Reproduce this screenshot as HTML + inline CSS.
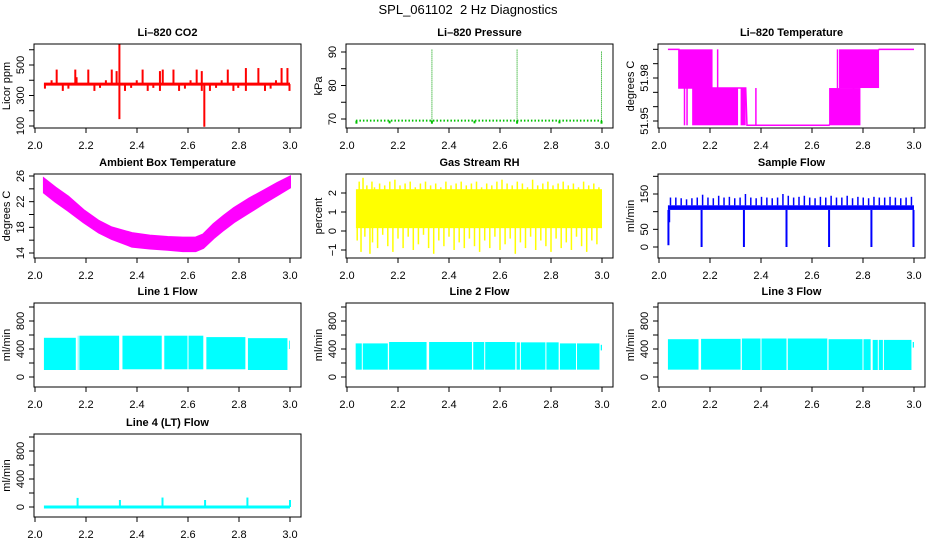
<!DOCTYPE html>
<html><head><meta charset="utf-8"><style>
html,body{margin:0;padding:0;background:#fff;}
svg{display:block;font-family:"Liberation Sans",Arial,sans-serif;}
</style></head><body>
<svg id="chart" width="936" height="540" viewBox="0 0 936 540" xmlns="http://www.w3.org/2000/svg">
<rect x="0" y="0" width="936" height="540" fill="#fff"/>
<text x="468" y="14" font-size="13" text-anchor="middle">SPL_061102&#160; 2 Hz Diagnostics</text>
</svg>
<script>
// ---------- data ----------
const xTicks = [2.0, 2.2, 2.4, 2.6, 2.8, 3.0];
const xTickLabels = ["2.0", "2.2", "2.4", "2.6", "2.8", "3.0"];
const dataStart = 2.035, dataEnd = 3.0;

// CO2
const co2Base = 375;
const co2SpikeX = [2.039,2.065,2.085,2.109,2.131,2.158,2.163,2.209,2.233,2.255,2.278,2.301,2.320,2.331,2.331,2.353,2.377,2.399,2.422,2.442,2.464,2.490,2.490,2.501,2.543,2.565,2.588,2.610,2.634,2.654,2.654,2.664,2.686,2.710,2.732,2.756,2.778,2.797,2.827,2.827,2.876,2.902,2.924,2.945,2.967,2.990,2.998];
const co2SpikeV = [345,400,470,330,345,470,420,470,330,350,400,470,460,640,145,330,350,400,470,330,350,460,330,470,470,330,345,400,470,460,330,95,330,350,400,470,330,350,480,330,480,330,345,400,480,480,330];

// Pressure
const presBase = 69.5;
const presSpikeX = [2.333, 2.667, 2.998];
const presSpikeV = [90.8, 91.0, 90.2];
const presDipX = [2.037, 2.167, 2.333, 2.5, 2.667, 2.833, 2.998];
const presDipV = [68.6, 68.7, 68.6, 68.7, 68.6, 68.7, 68.6];

// Li-820 temperature
const tempLineX = [2.035, 2.078, 2.078, 2.34, 2.345, 2.667, 2.863, 3.0];
const tempLineV = [52.0, 52.0, 51.973, 51.973, 51.947, 51.947, 52.0, 52.0];
const tempBlockX0 = [2.078, 2.13, 2.32, 2.667, 2.706];
const tempBlockX1 = [2.21, 2.31, 2.34, 2.79, 2.863];
const tempBlockLo = [51.973, 51.947, 51.947, 51.947, 51.973];
const tempBlockHi = [52.0, 51.973, 51.973, 51.973, 52.0];
const tempSpikeX = [2.10, 2.11, 2.23, 2.38, 2.70];
const tempSpikeLo = [51.947, 51.947, 51.973, 51.947, 51.973];
const tempSpikeHi = [51.973, 51.973, 52.0, 51.973, 52.0];

// Ambient box temperature envelope
const ambX = [2.035, 2.08, 2.13, 2.19, 2.25, 2.30, 2.38, 2.45, 2.52, 2.58, 2.63, 2.66, 2.70, 2.74, 2.78, 2.84, 2.90, 2.95, 3.0];
const ambLo = [23.4, 22.0, 20.6, 18.8, 17.2, 16.2, 15.0, 14.7, 14.5, 14.3, 14.3, 14.8, 16.3, 17.6, 18.8, 20.3, 21.8, 23.0, 24.2];
const ambHi = [25.6, 24.2, 22.8, 20.7, 19.0, 18.0, 17.1, 16.7, 16.5, 16.4, 16.4, 16.9, 18.5, 19.8, 21.0, 22.5, 23.8, 24.9, 25.9];

// Gas stream RH
const rhBandLo = 0.15, rhBandHi = 2.2;
const rhSpikeX = [2.04,2.055,2.07,2.09,2.10,2.12,2.14,2.16,2.18,2.20,2.22,2.24,2.26,2.28,2.30,2.32,2.34,2.36,2.38,2.40,2.42,2.44,2.46,2.48,2.50,2.52,2.54,2.56,2.58,2.60,2.62,2.64,2.66,2.68,2.70,2.72,2.74,2.76,2.78,2.80,2.82,2.84,2.86,2.88,2.90,2.92,2.94,2.96,2.98];
const rhSpikeLo = [-0.5,-1.1,-0.3,-1.2,-0.6,-0.9,-0.2,-0.8,-1.1,-0.4,-0.9,-0.3,-1.0,-0.7,-0.2,-0.9,-1.2,-0.5,-0.8,-0.3,-1.0,-0.6,-0.9,-0.4,-0.8,-1.1,-0.5,-0.9,-0.3,-1.0,-0.7,-0.4,-1.2,-0.6,-0.9,-0.3,-1.0,-0.5,-0.8,-1.1,-0.4,-0.9,-0.6,-1.0,-0.3,-0.8,-1.1,-0.5,-0.7];
const rhSpikeHi = [2.6,2.8,2.4,2.6,2.3,2.5,2.4,2.6,2.7,2.4,2.5,2.6,2.3,2.5,2.6,2.4,2.5,2.3,2.6,2.4,2.5,2.6,2.4,2.5,2.6,2.3,2.5,2.4,2.6,2.7,2.5,2.4,2.6,2.5,2.3,2.7,2.4,2.5,2.6,2.4,2.5,2.6,2.4,2.5,2.3,2.6,2.4,2.5,2.3];

// Sample flow
const sfBandLo = 105, sfBandHi = 118;
const sfSpikeX = [2.045,2.066,2.087,2.108,2.129,2.150,2.171,2.192,2.213,2.234,2.255,2.276,2.297,2.318,2.339,2.360,2.381,2.402,2.423,2.444,2.465,2.486,2.507,2.528,2.549,2.570,2.591,2.612,2.633,2.654,2.675,2.696,2.717,2.738,2.759,2.780,2.801,2.822,2.843,2.864,2.885,2.906,2.927,2.948,2.969,2.990];
const sfSpikeV = [140,140,138,135,138,140,148,140,138,145,140,142,138,140,150,140,138,142,140,138,140,150,145,140,142,145,140,138,142,140,145,140,140,145,138,142,140,138,142,140,140,142,140,138,140,142];
const sfDipX = [2.037, 2.04, 2.167, 2.333, 2.5, 2.667, 2.833, 2.998];
const sfDipV = [5, 70, 0, 0, 0, 0, 0, 0];

// Line flows: segments
const l1X0 = [2.035,2.168,2.343,2.507,2.672,2.835,2.997];
const l1X1 = [2.160,2.330,2.497,2.660,2.825,2.990,3.000];
const l1Lo = [100,100,110,110,110,100,400];
const l1Hi = [560,590,590,590,570,555,520];
const l1GapX = [2.172, 2.60];

const l2X0 = [2.034,2.165,2.322,2.495,2.665,2.835,2.995];
const l2X1 = [2.160,2.312,2.490,2.660,2.830,2.990,3.000];
const l2Lo = [105,105,105,105,105,105,380];
const l2Hi = [480,500,500,500,495,480,460];
const l2GapX = [2.06, 2.54, 2.68, 2.78, 2.90];

const l3X0 = [2.035,2.165,2.325,2.505,2.665,2.838,2.995];
const l3X1 = [2.155,2.320,2.500,2.660,2.830,2.990,3.000];
const l3Lo = [105,105,100,100,100,100,420];
const l3Hi = [540,545,550,550,540,530,500];
const l3GapX = [2.40, 2.80, 2.86, 2.88];

// Line 4
const l4Base = 0;
const l4SpikeX = [2.167, 2.333, 2.5, 2.667, 2.833, 3.0];
const l4SpikeV = [130, 100, 135, 100, 135, 100];

// ---------- layout / axes ----------
const NS = "http://www.w3.org/2000/svg";
const svg = document.getElementById("chart");
const colOff = [0, 312, 624];
const rowTop = [44, 174, 303, 434];
const rowBot = [128, 258, 387, 517];

function mk(tag, attrs, parent) {
  const el = document.createElementNS(NS, tag);
  for (const k in attrs) el.setAttribute(k, attrs[k]);
  (parent || svg).appendChild(el);
  return el;
}
function xAxisFn(col) { return v => 35 + colOff[col] + (v - 2) * 255; }
function yAxisFn(y0, v0, y1, v1) { return v => y0 + (v - v0) * (y1 - y0) / (v1 - v0); }

function panel(p) {
  const g = mk("g", {});
  
  
  const L = 34 + colOff[p.col], R = 301 + colOff[p.col], T = rowTop[p.row], B = rowBot[p.row];
  const x = xAxisFn(p.col);
  const cid = "clip" + p.name;
  const cp = mk("clipPath", { id: cid }, g);
  mk("rect", { x: L, y: T, width: R - L, height: B - T }, cp);
  const plot = mk("g", { "clip-path": "url(#" + cid + ")" }, g);
  
  
  p.draw(plot, x, p.y);
  const fr = mk("rect", { x: L, y: T, width: R - L, height: B - T, fill: "none", stroke: "#000", "stroke-width": 1 }, g);
  
  
  const t = mk("text", { x: (L + R) / 2, y: T - 8, "font-size": 11, "font-weight": "bold", "text-anchor": "middle" }, g);
  t.textContent = p.title;
  
  
  const xa = mk("g", {}, g);
  
  
  xTicks.forEach((v, i) => {
    mk("line", { x1: x(v), x2: x(v), y1: B, y2: B + 5, stroke: "#000" }, xa);
    const tl = mk("text", { x: x(v), y: B + 21, "font-size": 11, "text-anchor": "middle" }, xa);
    tl.textContent = xTickLabels[i];
    
    
  });
  const ya = mk("g", {}, g);
  
  
  p.yTicks.forEach(v => {
    const yy = p.y(v);
    mk("line", { x1: L - 5, x2: L, y1: yy, y2: yy, stroke: "#000" }, ya);
  });
  p.yTickLabels.forEach((lab, i) => {
    const yy = p.y(p.yLabelVals[i]);
    const tl = mk("text", { x: 0, y: 0, "font-size": 11, "text-anchor": "middle", transform: "translate(" + (L - 10) + "," + yy + ") rotate(-90)" }, ya);
    tl.textContent = lab;
    
    
  });
  const yl = mk("text", { x: 0, y: 0, "font-size": 11, "text-anchor": "middle", transform: "translate(" + (L - 24) + "," + ((T + B) / 2) + ") rotate(-90)" }, g);
  yl.textContent = p.ylab;
  
  
}

function vline(g, x, y1, y2, color, w) {
  const el = mk("line", { x1: x, x2: x, y1: y1, y2: y2, stroke: color, "stroke-width": w }, g);
  
  
  return el;
}
function block(g, x0, x1, y0, y1, color) {
  const el = mk("rect", { x: Math.min(x0, x1), y: Math.min(y0, y1), width: Math.abs(x1 - x0), height: Math.abs(y1 - y0), fill: color }, g);
  
  
  return el;
}
function flowDraw(X0, X1, Lo, Hi, Gap) {
  return (g, x, y) => {
    X0.forEach((a, i) => block(g, x(a), x(X1[i]), y(Lo[i]), y(Hi[i]), "#00ffff"));
    Gap.forEach(gx => vline(g, x(gx), y(600), y(80), "#fff", 1));
  };
}

const flowTicks = [0, 200, 400, 600, 800, 1000];
const flowLabVals = [0, 400, 800];
const flowLabs = ["0", "400", "800"];

const panels = [
  { name: "co2-panel", title: "Li\u2013820 CO2", col: 0, row: 0, ylab: "Licor ppm",
    y: yAxisFn(126, 100, 65, 500), yTicks: [100,200,300,400,500,600], yLabelVals: [100,300,500], yTickLabels: ["100","300","500"],
    draw: (g, x, y) => {
      co2SpikeX.forEach((sx, i) => vline(g, x(sx), y(co2Base), y(co2SpikeV[i]), "#ff0000", 2));
      const b = mk("line", { x1: x(dataStart), x2: x(dataEnd), y1: y(co2Base), y2: y(co2Base), stroke: "#ff0000", "stroke-width": 3 }, g);
      
      
    } },
  { name: "pressure-panel", title: "Li\u2013820 Pressure", col: 1, row: 0, ylab: "kPa",
    y: yAxisFn(119, 70, 52, 90), yTicks: [70,75,80,85,90], yLabelVals: [70,80,90], yTickLabels: ["70","80","90"],
    draw: (g, x, y) => {
      const b = mk("line", { x1: x(dataStart), x2: x(dataEnd), y1: y(presBase), y2: y(presBase), stroke: "#00c000", "stroke-width": 2, "stroke-dasharray": "1.5,2" }, g);
      
      
      presSpikeX.forEach((sx, i) => vline(g, x(sx), y(presBase), y(presSpikeV[i]), "#00a000", 1).setAttribute("stroke-dasharray", "1,1"));
      presDipX.forEach((sx, i) => vline(g, x(sx), y(presBase), y(presDipV[i]), "#00c000", 2));
    } },
  { name: "li820-temperature-panel", title: "Li\u2013820 Temperature", col: 2, row: 0, ylab: "degrees C",
    y: yAxisFn(121, 51.95, 78, 51.98), yTicks: [51.95,51.96,51.97,51.98,51.99,52.0], yLabelVals: [51.95,51.98], yTickLabels: ["51.95","51.98"],
    draw: (g, x, y) => {
      const pts = tempLineX.map((v, i) => x(v) + "," + y(tempLineV[i])).join(" ");
      const pl = mk("polyline", { points: pts, fill: "none", stroke: "#ff00ff", "stroke-width": 1.5 }, g);
      
      
      tempBlockX0.forEach((a, i) => block(g, x(a), x(tempBlockX1[i]), y(tempBlockLo[i]), y(tempBlockHi[i]), "#ff00ff"));
      tempSpikeX.forEach((sx, i) => vline(g, x(sx), y(tempSpikeLo[i]), y(tempSpikeHi[i]), "#ff00ff", 1.5));
    } },
  { name: "ambient-temperature-panel", title: "Ambient Box Temperature", col: 0, row: 1, ylab: "degrees C",
    y: yAxisFn(253, 14, 176, 26), yTicks: [14,16,18,20,22,24,26], yLabelVals: [14,18,22,26], yTickLabels: ["14","18","22","26"],
    draw: (g, x, y) => {
      const top = ambX.map((v, i) => x(v) + "," + y(ambHi[i]));
      const bot = ambX.map((v, i) => x(v) + "," + y(ambLo[i])).reverse();
      const pg = mk("polygon", { points: top.concat(bot).join(" "), fill: "#ff00ff", stroke: "#ff00ff", "stroke-width": 2 }, g);
      
      
    } },
  { name: "rh-panel", title: "Gas Stream RH", col: 1, row: 1, ylab: "percent",
    y: yAxisFn(231, 0, 193, 2), yTicks: [-1,0,1,2], yLabelVals: [-1,0,1,2], yTickLabels: ["\u22121","0","1","2"],
    draw: (g, x, y) => {
      block(g, x(dataStart), x(dataEnd), y(rhBandLo), y(rhBandHi), "#ffff00");
      rhSpikeX.forEach((sx, i) => {
        vline(g, x(sx), y(rhSpikeLo[i]), y(1), "#ffff00", 1.5);
        vline(g, x(sx) + 2, y(1), y(rhSpikeHi[i]), "#ffff00", 1.5);
      });
    } },
  { name: "sample-flow-panel", title: "Sample Flow", col: 2, row: 1, ylab: "ml/min",
    y: yAxisFn(247, 0, 194, 150), yTicks: [0,50,100,150,200], yLabelVals: [0,50,150], yTickLabels: ["0","50","150"],
    draw: (g, x, y) => {
      block(g, x(dataStart), x(dataEnd), y(sfBandLo), y(sfBandHi), "#0000ff");
      sfSpikeX.forEach((sx, i) => vline(g, x(sx), y(sfBandHi), y(sfSpikeV[i]), "#0000ff", 1.5));
      sfDipX.forEach((sx, i) => vline(g, x(sx), y(sfBandLo), y(sfDipV[i]), "#0000ff", 2));
    } },
  { name: "line1-flow-panel", title: "Line 1 Flow", col: 0, row: 2, ylab: "ml/min",
    y: yAxisFn(377, 0, 321, 800), yTicks: flowTicks, yLabelVals: flowLabVals, yTickLabels: flowLabs,
    draw: flowDraw(l1X0, l1X1, l1Lo, l1Hi, l1GapX) },
  { name: "line2-flow-panel", title: "Line 2 Flow", col: 1, row: 2, ylab: "ml/min",
    y: yAxisFn(377, 0, 321, 800), yTicks: flowTicks, yLabelVals: flowLabVals, yTickLabels: flowLabs,
    draw: flowDraw(l2X0, l2X1, l2Lo, l2Hi, l2GapX) },
  { name: "line3-flow-panel", title: "Line 3 Flow", col: 2, row: 2, ylab: "ml/min",
    y: yAxisFn(377, 0, 321, 800), yTicks: flowTicks, yLabelVals: flowLabVals, yTickLabels: flowLabs,
    draw: flowDraw(l3X0, l3X1, l3Lo, l3Hi, l3GapX) },
  { name: "line4-flow-panel", title: "Line 4 (LT) Flow", col: 0, row: 3, ylab: "ml/min",
    y: yAxisFn(507, 0, 451, 800), yTicks: flowTicks, yLabelVals: flowLabVals, yTickLabels: flowLabs,
    draw: (g, x, y) => {
      const b = mk("line", { x1: x(dataStart), x2: x(dataEnd), y1: y(l4Base), y2: y(l4Base), stroke: "#00ffff", "stroke-width": 3 }, g);
      
      
      l4SpikeX.forEach((sx, i) => vline(g, x(sx), y(l4Base), y(l4SpikeV[i]), "#00ffff", 2));
    } }
];
panels.forEach(panel);
</script>
</body></html>
